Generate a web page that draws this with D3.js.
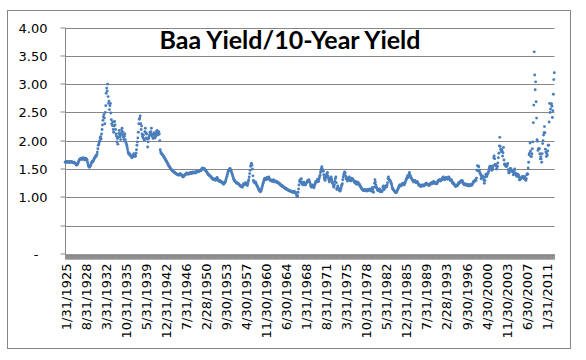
<!DOCTYPE html>
<html><head><meta charset="utf-8">
<script src="https://cdn.jsdelivr.net/npm/d3@7/dist/d3.min.js"></script>
<style>body{margin:0;background:#fff}svg{display:block}</style></head>
<body><svg id="c" width="586" height="360"></svg>
<script>
// Monthly Baa / 10-year yield ratio, Jan 1925 .. Jul 2012
const startYear = 1925;
const r1920s = [
1.62,1.63,1.62,1.63,1.63,1.62,1.63,1.62,1.63,1.62,1.62,1.63,
1.63,1.62,1.63,1.62,1.62,1.61,1.61,1.62,1.61,1.60,1.60,1.59,
1.57,1.57,1.58,1.60,1.62,1.64,1.66,1.67,1.68,1.68,1.69,1.68,
1.67,1.68,1.69,1.70,1.68,1.67,1.66,1.68,1.69,1.68,1.67,1.66,
1.62,1.58,1.55,1.54,1.53,1.54,1.56,1.57,1.60,1.62,1.64,1.63];
const r1930s = [
1.64,1.66,1.68,1.69,1.71,1.72,1.74,1.73,1.76,1.80,1.86,1.92,
1.94,1.97,2.00,2.05,2.07,2.03,2.12,2.20,2.28,2.36,2.42,2.46,
2.40,2.30,2.50,2.62,2.84,2.93,2.88,3.00,2.78,2.66,2.70,2.55,
2.62,2.66,2.49,2.37,2.30,2.27,2.33,2.20,2.15,2.26,2.34,2.28,
2.20,2.12,2.08,1.98,2.04,1.94,2.06,2.13,2.18,2.10,2.07,2.02,
2.13,2.18,2.22,2.10,2.15,2.06,2.02,2.08,2.12,2.02,1.98,1.95,
1.92,1.88,1.84,1.80,1.78,1.76,1.77,1.75,1.74,1.73,1.72,1.70,
1.71,1.72,1.74,1.77,1.76,1.74,1.72,1.73,1.78,1.84,1.92,1.98,
2.05,2.15,2.30,2.38,2.40,2.44,2.30,2.20,2.26,2.12,2.08,2.05,
2.10,2.03,2.01,2.16,2.22,2.14,2.05,2.12,2.03,1.89,1.98,2.04];
const r1940s = [
2.07,2.10,2.15,2.12,2.16,2.22,2.09,2.11,2.06,2.04,2.12,2.14,
2.10,2.05,2.08,2.12,2.16,2.18,2.14,2.10,2.12,2.16,2.12,2.00,
1.84,1.80,1.78,1.77,1.76,1.75,1.74,1.73,1.71,1.70,1.68,1.67,
1.66,1.64,1.63,1.61,1.60,1.58,1.56,1.55,1.54,1.52,1.51,1.50,
1.49,1.48,1.47,1.47,1.46,1.45,1.44,1.44,1.43,1.42,1.42,1.41,
1.41,1.40,1.41,1.40,1.39,1.40,1.41,1.42,1.41,1.40,1.39,1.38,
1.37,1.36,1.37,1.38,1.39,1.40,1.40,1.41,1.42,1.43,1.42,1.41,
1.42,1.41,1.42,1.43,1.42,1.43,1.44,1.43,1.42,1.44,1.45,1.44,
1.43,1.44,1.45,1.44,1.43,1.45,1.46,1.45,1.46,1.45,1.46,1.47,
1.46,1.47,1.48,1.47,1.48,1.50,1.51,1.52,1.51,1.50,1.51,1.50];
const r1950s = [
1.49,1.48,1.47,1.46,1.44,1.43,1.42,1.41,1.40,1.39,1.38,1.38,
1.37,1.36,1.35,1.34,1.33,1.32,1.33,1.32,1.31,1.32,1.31,1.30,
1.32,1.34,1.35,1.33,1.31,1.30,1.29,1.28,1.30,1.28,1.27,1.28,
1.27,1.26,1.25,1.24,1.23,1.25,1.27,1.26,1.28,1.31,1.34,1.37,
1.40,1.43,1.46,1.48,1.49,1.50,1.51,1.49,1.47,1.45,1.42,1.40,
1.37,1.34,1.32,1.30,1.29,1.28,1.27,1.26,1.25,1.26,1.25,1.24,
1.24,1.23,1.22,1.21,1.20,1.19,1.20,1.19,1.18,1.20,1.22,1.24,
1.23,1.22,1.24,1.26,1.25,1.24,1.22,1.21,1.24,1.28,1.31,1.36,
1.42,1.48,1.55,1.59,1.60,1.57,1.50,1.38,1.30,1.27,1.28,1.26,
1.25,1.27,1.24,1.22,1.20,1.19,1.17,1.15,1.13,1.12,1.11,1.10];
const r1960s = [
1.11,1.13,1.16,1.19,1.22,1.25,1.28,1.31,1.33,1.34,1.32,1.31,
1.32,1.35,1.34,1.33,1.35,1.36,1.34,1.31,1.30,1.31,1.30,1.29,
1.30,1.28,1.29,1.31,1.30,1.28,1.27,1.28,1.29,1.27,1.28,1.26,
1.27,1.26,1.25,1.24,1.25,1.23,1.22,1.21,1.22,1.20,1.19,1.20,
1.19,1.18,1.17,1.17,1.16,1.15,1.16,1.15,1.14,1.14,1.13,1.13,
1.12,1.12,1.11,1.12,1.11,1.11,1.10,1.10,1.09,1.09,1.10,1.11,
1.10,1.08,1.09,1.08,1.06,1.03,1.01,1.03,1.09,1.15,1.22,1.28,
1.31,1.29,1.26,1.33,1.27,1.24,1.22,1.25,1.27,1.24,1.22,1.23,
1.22,1.24,1.26,1.27,1.29,1.30,1.28,1.31,1.29,1.27,1.24,1.20,
1.19,1.18,1.20,1.22,1.21,1.19,1.17,1.20,1.23,1.26,1.28,1.27];
const r1970s = [
1.27,1.30,1.32,1.30,1.28,1.33,1.36,1.39,1.44,1.47,1.51,1.54,
1.50,1.48,1.46,1.40,1.35,1.32,1.30,1.34,1.37,1.40,1.42,1.44,
1.38,1.34,1.31,1.27,1.30,1.33,1.35,1.36,1.32,1.28,1.25,1.24,
1.20,1.18,1.22,1.28,1.33,1.36,1.26,1.14,1.16,1.20,1.17,1.15,
1.14,1.12,1.11,1.13,1.16,1.20,1.22,1.24,1.31,1.36,1.40,1.43,
1.45,1.43,1.38,1.33,1.35,1.31,1.29,1.30,1.32,1.34,1.36,1.33,
1.30,1.29,1.31,1.34,1.33,1.32,1.31,1.30,1.28,1.27,1.26,1.25,
1.28,1.24,1.23,1.25,1.27,1.26,1.24,1.22,1.23,1.20,1.19,1.18,
1.16,1.15,1.14,1.13,1.12,1.12,1.13,1.12,1.14,1.13,1.12,1.11,
1.12,1.13,1.14,1.12,1.13,1.14,1.15,1.13,1.12,1.11,1.14,1.17];
const r1980s = [
1.14,1.10,1.09,1.18,1.25,1.31,1.27,1.22,1.18,1.16,1.14,1.12,
1.13,1.12,1.14,1.15,1.10,1.11,1.12,1.11,1.10,1.12,1.18,1.20,
1.16,1.14,1.18,1.19,1.20,1.18,1.19,1.22,1.26,1.33,1.36,1.32,
1.31,1.30,1.29,1.27,1.25,1.22,1.18,1.15,1.14,1.13,1.12,1.11,
1.10,1.09,1.08,1.09,1.10,1.12,1.14,1.16,1.18,1.20,1.22,1.21,
1.22,1.20,1.21,1.23,1.24,1.25,1.24,1.23,1.22,1.25,1.27,1.29,
1.31,1.33,1.35,1.38,1.35,1.36,1.41,1.44,1.40,1.38,1.36,1.34,
1.33,1.31,1.30,1.29,1.27,1.28,1.29,1.30,1.28,1.26,1.27,1.28,
1.27,1.25,1.24,1.22,1.21,1.22,1.20,1.19,1.20,1.21,1.22,1.20,
1.21,1.22,1.20,1.21,1.22,1.23,1.24,1.25,1.23,1.24,1.22,1.23];
const r1990s = [
1.22,1.21,1.23,1.22,1.24,1.25,1.26,1.25,1.24,1.25,1.27,1.28,
1.27,1.26,1.25,1.24,1.26,1.25,1.24,1.26,1.28,1.30,1.29,1.31,
1.30,1.31,1.29,1.30,1.31,1.32,1.34,1.35,1.36,1.33,1.31,1.32,
1.33,1.34,1.35,1.34,1.33,1.32,1.34,1.36,1.35,1.33,1.31,1.30,
1.30,1.31,1.29,1.27,1.25,1.26,1.24,1.23,1.22,1.20,1.19,1.21,
1.22,1.20,1.21,1.22,1.24,1.26,1.25,1.27,1.26,1.28,1.29,1.30,
1.28,1.29,1.26,1.24,1.23,1.22,1.23,1.24,1.22,1.23,1.21,1.22,
1.23,1.22,1.21,1.20,1.21,1.22,1.23,1.22,1.21,1.22,1.23,1.25,
1.27,1.28,1.29,1.28,1.30,1.31,1.30,1.34,1.48,1.56,1.47,1.55,
1.54,1.48,1.44,1.42,1.40,1.33,1.36,1.37,1.38,1.36,1.34,1.30];
const r2000s = [
1.25,1.30,1.36,1.41,1.37,1.37,1.40,1.42,1.43,1.46,1.50,1.53,
1.55,1.50,1.55,1.50,1.48,1.49,1.52,1.56,1.70,1.73,1.68,1.58,
1.56,1.58,1.50,1.52,1.55,1.61,1.70,1.78,1.91,2.06,1.90,1.85,
1.81,1.84,1.82,1.73,1.79,1.88,1.66,1.58,1.59,1.57,1.55,1.55,
1.55,1.57,1.60,1.49,1.44,1.43,1.46,1.50,1.51,1.50,1.46,1.47,
1.46,1.45,1.40,1.44,1.48,1.50,1.43,1.40,1.42,1.38,1.37,1.40,
1.41,1.39,1.36,1.31,1.31,1.32,1.33,1.34,1.36,1.36,1.37,1.36,
1.35,1.33,1.37,1.35,1.32,1.30,1.33,1.40,1.42,1.41,1.52,1.62,
1.75,1.78,1.96,1.82,1.72,1.72,1.77,1.86,1.98,2.32,2.63,3.57,
3.16,2.90,3.04,2.69,2.40,2.02,1.99,1.83,1.86,1.86,1.86,1.77];
const r2010s = [
1.68,1.72,1.68,1.62,1.77,1.95,2.00,2.10,2.14,2.25,2.14,1.85,
1.80,1.72,1.77,1.74,1.82,1.92,1.92,2.33,2.66,2.50,2.56,2.65,
2.65,2.61,2.41,2.53,2.82,3.08,3.20];

const ratio = [].concat(r1920s, r1930s, r1940s, r1950s, r1960s, r1970s, r1980s, r1990s, r2000s, r2010s);
const yTicks = [0, 0.5, 1, 1.5, 2, 2.5, 3, 3.5, 4];
const yLabels = ["-", "", "1.00", "1.50", "2.00", "2.50", "3.00", "3.50", "4.00"];
const xTickLabels = ["1/31/1925","8/31/1928","3/31/1932","10/31/1935","5/31/1939","12/31/1942",
 "7/31/1946","2/28/1950","9/30/1953","4/30/1957","11/30/1960","6/30/1964","1/31/1968",
 "8/31/1971","3/31/1975","10/31/1978","5/31/1982","12/31/1985","7/31/1989","2/28/1993",
 "9/30/1996","4/30/2000","11/30/2003","6/30/2007","1/31/2011"];
const labelEvery = 43;
const title = "Baa Yield/10-Year Yield";

const N = ratio.length;
const cats = d3.range(N);
const svg = d3.select("#c");
const gray = "#868686";
const font = "'DejaVu Sans', Verdana, sans-serif";

svg.append("rect").attr("x",7.5).attr("y",10.5).attr("width",563).attr("height",338)
  .attr("fill","#fff").attr("stroke",gray).attr("stroke-width",1);

const L = 65, R = 554.5;
const x = d3.scaleBand().domain(cats).range([L, R]);
const y = d3.scaleLinear().domain([0, 4]).range([254, 27.5]);
const py = v => Math.round(y(v)) + 0.5;

// gridlines
svg.append("g").selectAll("line").data(yTicks.filter(v => v > 0)).join("line")
  .attr("x1", L).attr("x2", R).attr("y1", py).attr("y2", py)
  .attr("stroke", gray).attr("stroke-width", 1);

// y axis
const yAxis = d3.axisLeft(y).tickValues(yTicks).tickSize(5).tickSizeOuter(0)
  .tickFormat((v, i) => yLabels[i]);
const gy = svg.append("g").attr("transform", `translate(${L+0.5},0)`).call(yAxis);
gy.selectAll(".tick").attr("transform", d => `translate(0,${py(d)-0.5})`);
gy.select(".domain").attr("stroke", gray).attr("d", `M0,${py(4)}V${py(0)}`);
gy.selectAll(".tick line").attr("stroke", gray);
gy.selectAll(".tick text").attr("font-family", font).attr("font-size", 13).attr("fill", "#000")
  .attr("x", -18).attr("dy", "0.36em")
  .filter(d => d === 0).attr("x", -27);

// x axis with a tick per month
const xAxis = d3.axisBottom(x).tickSize(5).tickSizeOuter(0)
  .tickFormat(i => i % labelEvery === 0 ? (xTickLabels[i / labelEvery] || "") : "");
const gx = svg.append("g").attr("transform", `translate(0,${py(0)})`).call(xAxis);
gx.select(".domain").attr("stroke", gray);
gx.selectAll(".tick line").attr("stroke", gray).attr("stroke-width", 0.8);
gx.selectAll(".tick text").filter(function(){ return this.textContent === ""; }).remove();
gx.selectAll(".tick text").attr("font-family", font).attr("font-size", 13).attr("fill", "#000")
  .attr("transform", "rotate(-90)").attr("text-anchor", "end")
  .attr("x", -9).attr("y", 0).attr("dy", "0.42em");

// points
svg.append("g").selectAll("circle").data(ratio).join("circle")
  .attr("cx", (d, i) => x(i) + x.bandwidth() / 2)
  .attr("cy", d => y(d))
  .attr("r", 1.45)
  .attr("fill", "#4a7ebb");

// title
svg.append("text").attr("x", 290).attr("y", 49).attr("text-anchor", "middle")
  .attr("font-family", "Lato, 'Open Sans', sans-serif").attr("font-weight", "bold")
  .attr("font-size", 25).attr("fill", "#000").text(title);
</script></body></html>
